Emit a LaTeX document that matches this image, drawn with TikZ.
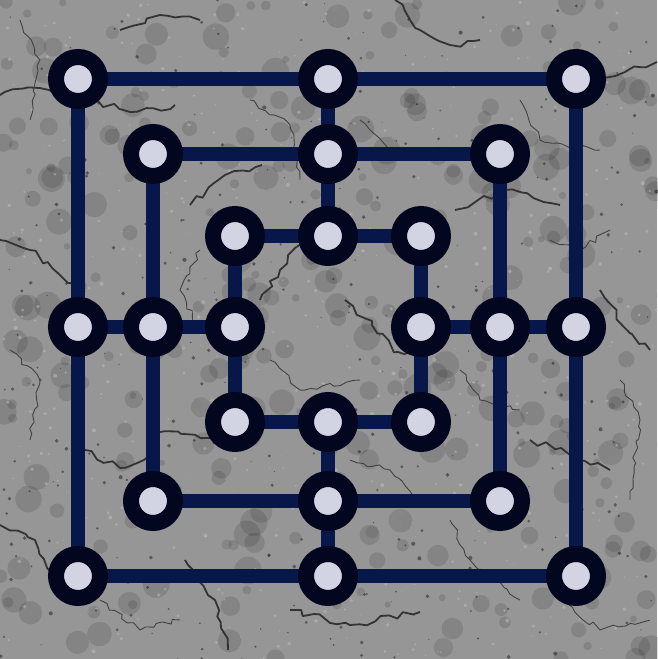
\documentclass[tikz,border=0pt]{standalone}
\usetikzlibrary{decorations.pathmorphing}
\definecolor{ringc}{HTML}{03061F}
\definecolor{linec}{HTML}{07174A}
\definecolor{holec}{HTML}{D2D4E4}
\definecolor{stone}{HTML}{969696}
\definecolor{crack}{HTML}{333333}
\pgfdeclarelayer{bg}
\pgfdeclarelayer{edges}
\pgfsetlayers{bg,edges,main}
\tikzset{
  spot/.style={circle, draw=ringc, line width=16pt, fill=holec, inner sep=0pt, minimum size=44pt},
  board/.style={draw=linec, line width=14pt},
  crackline/.style={draw=crack, line width=1.8pt, line join=round, decorate, decoration={random steps, segment length=8pt, amplitude=3.5pt}},
  thincrack/.style={draw=crack!80!gray, line width=0.9pt, line join=round, decorate, decoration={random steps, segment length=6pt, amplitude=2.5pt}},
}
\begin{document}
\begin{tikzpicture}[x=1pt,y=-1pt]
\useasboundingbox (0,0) rectangle (657,659);
\pgfmathsetseed{11}
\begin{pgfonlayer}{bg}
  \fill[stone] (0,0) rectangle (657,659);
  % mottled blotches
  \foreach \i in {1,...,600} {
    \pgfmathsetmacro{\px}{657*rnd}
    \pgfmathsetmacro{\py}{659*rnd}
    \pgfmathsetmacro{\pr}{3+11*rnd}
    \pgfmathsetmacro{\pg}{rnd > 0.5 ? 40 : 95}
    \fill[black!\pg!white, opacity=0.13] (\px,\py) circle (\pr);
  }
  % speckles
  \foreach \i in {1,...,900} {
    \pgfmathsetmacro{\px}{657*rnd}
    \pgfmathsetmacro{\py}{659*rnd}
    \pgfmathsetmacro{\pr}{0.5+1.6*rnd}
    \pgfmathsetmacro{\pg}{rnd > 0.4 ? 25 : 90}
    \fill[black!\pg!white, opacity=0.5] (\px,\py) circle (\pr);
  }
  % cracks
  \draw[crackline] (0,95) -- (40,88) -- (90,100) -- (130,112) -- (175,105);
  \draw[crackline] (0,240) -- (30,250) -- (60,275) -- (90,300);
  \draw[crackline] (160,432) -- (210,438) -- (262,428);
  \draw[crackline] (85,450) -- (120,468) -- (150,455);
  \draw[crackline] (345,300) -- (372,325) -- (398,352) -- (430,345);
  \draw[crackline] (395,0) -- (420,30) -- (450,45) -- (480,40);
  \draw[crackline] (600,82) -- (625,72) -- (657,62);
  \draw[crackline] (530,440) -- (570,455) -- (610,470);
  \draw[crackline] (290,610) -- (350,625) -- (420,612);
  \draw[crackline] (185,560) -- (215,600) -- (228,650);
  \draw[crackline] (455,210) -- (505,190) -- (560,205);
  \draw[crackline] (190,205) -- (225,175) -- (262,165);
  \draw[crackline] (0,525) -- (35,540) -- (58,585);
  \draw[crackline] (600,290) -- (622,325) -- (650,350);
  \draw[crackline] (260,300) -- (280,270) -- (300,240);
  \draw[crackline] (120,30) -- (160,15) -- (200,20);
  \draw[thincrack] (20,20) -- (40,60) -- (30,120);
  \draw[thincrack] (250,100) -- (290,125) -- (300,180);
  \draw[thincrack] (360,120) -- (390,150) -- (440,160);
  \draw[thincrack] (520,100) -- (540,140) -- (600,150);
  \draw[thincrack] (10,350) -- (40,380) -- (30,440);
  \draw[thincrack] (270,360) -- (300,390) -- (360,380);
  \draw[thincrack] (460,370) -- (480,400) -- (520,410);
  \draw[thincrack] (620,380) -- (640,420) -- (630,500);
  \draw[thincrack] (100,600) -- (140,630) -- (180,620);
  \draw[thincrack] (450,520) -- (470,560) -- (520,600);
  \draw[thincrack] (560,600) -- (600,630) -- (650,620);
  \draw[thincrack] (350,460) -- (390,470) -- (420,500);
  \draw[thincrack] (200,250) -- (180,290) -- (200,330);
  \draw[thincrack] (550,240) -- (580,250) -- (610,230);
\end{pgfonlayer}

% outer square
\node[spot] (o1) at (78,79) {};
\node[spot] (o2) at (328,79) {};
\node[spot] (o3) at (576,79) {};
\node[spot] (o4) at (576,327) {};
\node[spot] (o5) at (576,576) {};
\node[spot] (o6) at (328,576) {};
\node[spot] (o7) at (78,576) {};
\node[spot] (o8) at (78,327) {};
% middle square
\node[spot] (m1) at (153,154) {};
\node[spot] (m2) at (328,154) {};
\node[spot] (m3) at (500,154) {};
\node[spot] (m4) at (500,327) {};
\node[spot] (m5) at (500,501) {};
\node[spot] (m6) at (328,501) {};
\node[spot] (m7) at (153,501) {};
\node[spot] (m8) at (153,327) {};
% inner square
\node[spot] (i1) at (235,236) {};
\node[spot] (i2) at (328,236) {};
\node[spot] (i3) at (421,236) {};
\node[spot] (i4) at (421,327) {};
\node[spot] (i5) at (421,422) {};
\node[spot] (i6) at (328,422) {};
\node[spot] (i7) at (235,422) {};
\node[spot] (i8) at (235,327) {};

\begin{pgfonlayer}{edges}
  \draw[board] (o1.center) -- (o3.center) -- (o5.center) -- (o7.center) -- cycle;
  \draw[board] (m1.center) -- (m3.center) -- (m5.center) -- (m7.center) -- cycle;
  \draw[board] (i1.center) -- (i3.center) -- (i5.center) -- (i7.center) -- cycle;
  \draw[board] (o2.center) -- (i2.center);
  \draw[board] (o8.center) -- (i8.center);
  \draw[board] (o4.center) -- (i4.center);
  \draw[board] (o6.center) -- (i6.center);
\end{pgfonlayer}
\end{tikzpicture}
\end{document}
